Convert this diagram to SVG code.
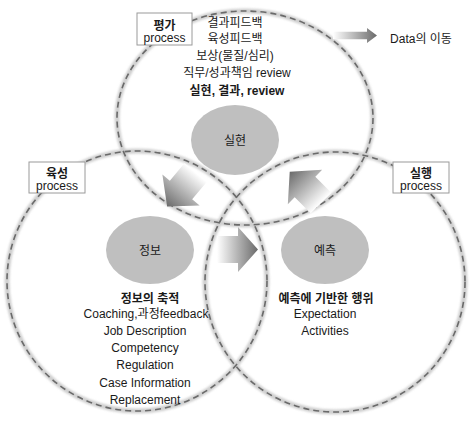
<svg xmlns="http://www.w3.org/2000/svg" width="470" height="421" viewBox="0 0 470 421">
<defs>
<style>
text{font-family:'Liberation Sans','Noto Sans CJK KR',sans-serif;fill:#1a1a1a;font-size:12px;text-anchor:middle;}
.b{font-weight:bold;}
.ring{fill:none;stroke:#6a6a6a;stroke-width:1.6;stroke-dasharray:6 4;}
.halo{fill:none;stroke:#cfcfcf;stroke-width:5;filter:url(#blur);}
.node{fill:#bfbfbf;}
.box{fill:#fff;stroke:#9a9a9a;stroke-width:1;}
</style>
<filter id="blur" x="-10%" y="-10%" width="120%" height="120%"><feGaussianBlur stdDeviation="1.2"/></filter>
<linearGradient id="ag" gradientUnits="userSpaceOnUse" x1="-21" y1="0" x2="20" y2="0"><stop offset="0" stop-color="#ffffff"/><stop offset="1" stop-color="#6a6a6a"/></linearGradient>
<linearGradient id="dg" gradientUnits="userSpaceOnUse" x1="-34" y1="0" x2="10" y2="0"><stop offset="0" stop-color="#ffffff"/><stop offset="1" stop-color="#6a6a6a"/></linearGradient>
<path id="arr" d="M-21,-13.5 H0 V-22.5 L20,0 L0,22.5 V13.5 H-21 Z"/>
</defs>
<rect width="470" height="421" fill="#fff"/>
<g id="rings">
<ellipse class="halo" cx="245" cy="118" rx="128" ry="107"/>
<circle class="halo" cx="137" cy="281" r="130"/>
<circle class="halo" cx="335" cy="282" r="130"/>
<ellipse class="ring" cx="245" cy="118" rx="128" ry="107"/>
<circle class="ring" cx="137" cy="281" r="130"/>
<circle class="ring" cx="335" cy="282" r="130"/>
</g>
<g id="connectors">
<use href="#arr" fill="url(#ag)" transform="translate(238,249.5)"/>
<use href="#arr" fill="url(#ag)" transform="translate(305,187) rotate(-135) scale(1.08)"/>
<use href="#arr" fill="url(#ag)" transform="translate(181,190) rotate(130) scale(1.08)"/>
<path d="M-34,-3.8 H0 V-7.5 L10,0 L0,7.5 V3.8 H-34 Z" fill="url(#dg)" transform="translate(367,35.5)"/>
</g>
<g id="node-silhyeon">
<ellipse class="node" cx="235" cy="140" rx="44" ry="35"/>
<text x="235" y="144.5">실현</text>
</g>
<g id="node-jeongbo">
<ellipse class="node" cx="150" cy="250" rx="44" ry="34"/>
<text x="150" y="254.5">정보</text>
</g>
<g id="node-yecheuk">
<ellipse class="node" cx="325" cy="250" rx="44" ry="34"/>
<text x="325" y="254.5">예측</text>
</g>
<g id="label-pyeongga">
<rect class="box" x="137" y="13" width="55" height="32"/>
<text class="b" x="164.5" y="29.5">평가</text>
<text x="164.5" y="42">process</text>
</g>
<g id="label-yukseong">
<rect class="box" x="29" y="162" width="56" height="31"/>
<text class="b" x="57" y="177.5">육성</text>
<text x="57" y="190">process</text>
</g>
<g id="label-silhaeng">
<rect class="box" x="393" y="162" width="56" height="31"/>
<text class="b" x="421" y="177.5">실행</text>
<text x="421" y="190">process</text>
</g>
<g id="text-top">
<text x="235" y="26.5">결과피드백</text>
<text x="235" y="42.5">육성피드백</text>
<text x="235" y="59.5">보상(물질/심리)</text>
<text x="237" y="76.5">직무/성과책임 review</text>
<text class="b" x="237" y="95">실현, 결과, review</text>
</g>
<g id="text-left">
<text class="b" x="150" y="303">정보의 축적</text>
<text x="146" y="318">Coaching,과정feedback</text>
<text x="145" y="335">Job Description</text>
<text x="145" y="352">Competency</text>
<text x="145" y="369">Regulation</text>
<text x="145" y="387">Case Information</text>
<text x="145" y="404">Replacement</text>
</g>
<g id="text-right">
<text class="b" x="326" y="303">예측에 기반한 행위</text>
<text x="325" y="318">Expectation</text>
<text x="325" y="335">Activities</text>
</g>
<g id="legend">
<text x="421" y="43">Data의 이동</text>
</g>
</svg>
